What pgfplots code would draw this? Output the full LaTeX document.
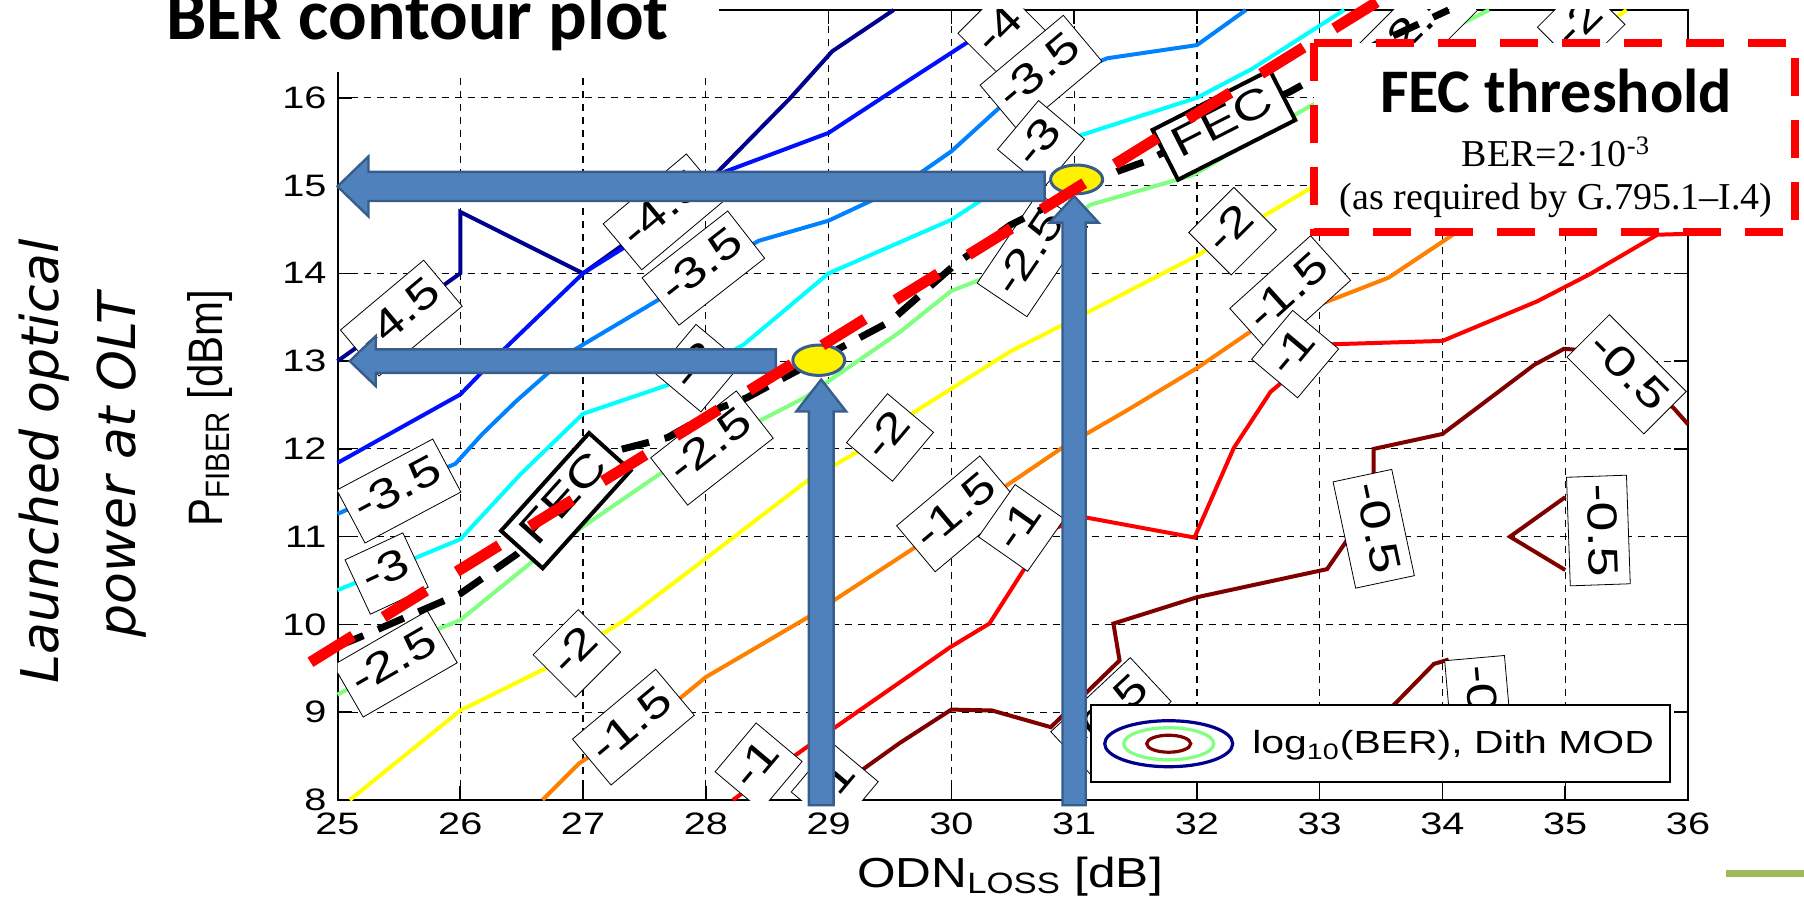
\documentclass[border=0pt]{standalone}
\usepackage{fontspec}
\usepackage{graphicx}
\usepackage{pgfplots}
\pgfplotsset{compat=1.18}
\newfontfamily\arialS[FakeStretch=1.28]{Liberation Sans}
\newfontfamily\arialM[FakeStretch=1.18]{Liberation Sans}
\newfontfamily\arialN{Liberation Sans}
\newfontfamily\calib{Carlito}
\newfontfamily\timesf{Liberation Serif}
\newfontfamily\dejav{DejaVu Sans}
\definecolor{cNavy}{RGB}{0,0,140}
\definecolor{cBlue}{RGB}{0,16,255}
\definecolor{cDodger}{RGB}{0,130,255}
\definecolor{cCyan}{RGB}{0,255,255}
\definecolor{cLGreen}{RGB}{128,255,128}
\definecolor{cYellow}{RGB}{255,255,0}
\definecolor{cOrange}{RGB}{255,128,0}
\definecolor{cRed}{RGB}{255,0,0}
\definecolor{cDRed}{RGB}{128,0,0}
\definecolor{arrF}{RGB}{79,129,189}
\definecolor{arrD}{RGB}{56,93,138}
\definecolor{olive}{RGB}{155,187,89}
\tikzset{
  clab/.style={draw=black, line width=0.4pt, fill=white, inner xsep=4pt, inner ysep=4pt,
    text height=16pt, text depth=6pt, font=\arialS\fontsize{21}{24}\selectfont},
  feclab/.style={draw=black, line width=2pt, fill=white, inner xsep=6pt, inner ysep=4pt,
    text height=15pt, text depth=5pt, font=\arialS\fontsize{21}{24}\selectfont},
  arrowsty/.style={fill=arrF, draw=arrD, line width=1.2pt}
}
\newcommand\clab[4]{\node[clab, rotate=#3] at (axis cs:#1,#2) {#4};}
% horizontal left arrow: tipx, y, endx, headlen, headhalf, shafthalf
\newcommand\harrow[6]{\filldraw[arrowsty] (axis cs:#1,#2) -- ([shift={(#4,#5)}]axis cs:#1,#2) -- ([shift={(#4,#6)}]axis cs:#1,#2) -- ([yshift=#6]axis cs:#3,#2) -- ([yshift=-#6]axis cs:#3,#2) -- ([shift={(#4,-#6)}]axis cs:#1,#2) -- ([shift={(#4,-#5)}]axis cs:#1,#2) -- cycle;}
% vertical up arrow: x, tipy, bottomy, headlen, headhalf, shafthalf
\newcommand\varrow[6]{\filldraw[arrowsty] (axis cs:#1,#2) -- ([shift={(#5,-#4)}]axis cs:#1,#2) -- ([shift={(#6,-#4)}]axis cs:#1,#2) -- ([xshift=#6]axis cs:#1,#3) -- ([xshift=-#6]axis cs:#1,#3) -- ([shift={(-#6,-#4)}]axis cs:#1,#2) -- ([shift={(-#5,-#4)}]axis cs:#1,#2) -- cycle;}
\begin{document}
\begin{tikzpicture}
\useasboundingbox (0,0) rectangle (902pt,455.5pt);
\begin{axis}[
  at={(168.75pt,55.5pt)}, anchor=south west,
  scale only axis, width=675.25pt, height=395pt,
  xmin=25, xmax=36, ymin=8, ymax=17,
  xtick={25,26,...,36}, ytick={8,9,...,16},
  grid=major,
  major grid style={black, line width=0.6pt, dash pattern=on 3.5pt off 3pt},
  axis line style={black, line width=1pt},
  tick style={black, line width=0.8pt}, major tick length=7pt,
  tick label style={font=\arialS\fontsize{15.5}{17}\selectfont},
  xticklabel style={yshift=-3pt},
  yticklabel style={xshift=-2pt},
  /pgf/number format/assume math mode=true,
  clip=false,
  legend cell align=left,
  legend style={at={(axis cs:31.13,8.19)}, anchor=south west, draw=black, line width=1pt,
    fill=white, inner xsep=6pt, inner ysep=7pt, font=\arialS\fontsize{16}{19}\selectfont,
    /tikz/every odd column/.append style={column sep=7pt}},
  every axis plot/.append style={forget plot},
]
% ---- contours ----
\addplot[no markers, cNavy, line width=2pt] coordinates {(25,13.0) (26,14.0) (26,14.7) (27,14.0) (27.3,14.3) (28.1,15.16) (28.69,16.0) (29.03,16.53) (29.53,17)};
\addplot[no markers, cBlue, line width=2pt] coordinates {(25,11.84) (26,12.62) (26.36,13.14) (27,14.0) (27.32,14.28) (28.16,15.16) (29,15.6) (29.6,16.15) (30.14,16.64) (30.6,17)};
\addplot[no markers, cDodger, line width=2pt] coordinates {(25,11.26) (25.96,11.83) (26.18,12.17) (26.46,12.55) (26.93,13.13) (27.64,13.72) (28.43,14.37) (29,14.6) (29.58,14.98) (30.0,15.39) (30.48,16.0) (31.27,16.45) (32,16.6) (32.4,17)};
\addplot[no markers, cCyan, line width=2pt] coordinates {(25,10.39) (26,10.97) (26.49,11.71) (27,12.4) (27.78,12.77) (28.31,13.19) (29,14.0) (30,14.61) (30.48,15.05) (30.98,15.54) (32,16.0) (32.45,16.33) (33.2,17)};
\addplot[no markers, cLGreen, line width=2pt] coordinates {(25,9.2) (25.47,9.55) (25.79,9.93) (26,10.05) (26.6,10.73) (27.62,11.71) (28.2,12.15) (28.8,12.58) (29.58,13.33) (30,13.8) (30.48,14.06) (31.13,14.78) (31.97,15.12) (32.84,15.84) (33.81,16.6) (34.38,17)};
\addplot[no markers, cYellow, line width=2pt] coordinates {(25.1,8.0) (26,9.02) (26.71,9.51) (27.34,10.05) (27.98,10.73) (28.83,11.64) (29.29,12.01) (29.71,12.43) (30.48,13.11) (31.13,13.57) (32,14.2) (32.95,14.99) (34,15.8) (35.36,16.86) (35.5,17)};
\addplot[no markers, cOrange, line width=2pt] coordinates {(26.67,8.0) (26.97,8.42) (27.8,9.17) (28.0,9.4) (28.83,10.08) (29.75,10.92) (30.9,12.01) (31.42,12.43) (32.0,12.92) (32.44,13.34) (33.56,13.95) (34.0,14.36) (35,15.3) (36,16.2)};
\addplot[no markers, cRed, line width=2pt] coordinates {(28.22,8.0) (28.83,8.61) (29.99,9.74) (30.31,10.01) (30.62,10.69) (30.85,11.1) (31.09,11.22) (31.98,10.99) (32.3,12.01) (32.6,12.65) (33.06,13.19) (34.0,13.23) (34.77,13.68) (35.2,13.99) (35.75,14.44) (36,14.45)};
\addplot[no markers, cDRed, line width=2pt] coordinates {(28.93,8.0) (29.58,8.65) (30.0,9.03) (30.33,9.02) (30.81,8.83) (31.37,9.59) (31.32,10.01) (32.0,10.31) (33.06,10.63) (33.44,11.4) (33.44,12.0) (34.0,12.17) (34.75,12.96) (34.99,13.14) (35.18,13.12) (35.88,12.47) (36,12.28)};
\addplot[no markers, cDRed, line width=2pt] coordinates {(33.1,8.4) (33.56,9.02) (33.93,9.55) (34.05,9.6)};
\addplot[no markers, cDRed, line width=2pt] coordinates {(35.0,11.45) (34.55,11.0) (35.0,10.62)};
% ---- contour labels ----
\begin{scope}
\clip (axis cs:25,8) rectangle (axis cs:36,17);
\clab{25.52}{13.49}{40}{-4.5}
\clab{27.66}{14.70}{40}{-4.5}
\clab{27.98}{14.06}{38}{-3.5}
\clab{30.41}{16.75}{45}{-4}
\clab{30.73}{16.28}{40}{-3.5}
\clab{30.73}{15.47}{50}{-3}
\clab{30.66}{14.21}{56}{-2.5}
\clab{32.29}{14.48}{45}{-2}
\clab{35.13}{16.82}{45}{-2}
\clab{33.8}{16.8}{45}{-2.5}
\clab{32.76}{13.76}{42}{-1.5}
\clab{32.8}{13.08}{50}{-1}
\clab{35.5}{12.85}{-45}{-0.5}
\clab{33.44}{11.09}{-78}{-0.5}
\clab{35.27}{11.07}{-88}{-0.5}
\clab{34.3}{9.0}{-85}{-0.5}
\clab{31.3}{8.95}{43}{-0.5}
\clab{30.05}{11.26}{40}{-1.5}
\clab{30.57}{11.1}{55}{-1}
\clab{29.5}{12.13}{50}{-2}
\clab{25.5}{11.52}{28}{-3.5}
\clab{25.4}{10.58}{25}{-3}
\clab{25.47}{9.55}{30}{-2.5}
\clab{28.05}{12.01}{38}{-2.5}
\clab{26.95}{9.67}{45}{-2}
\clab{27.41}{8.83}{40}{-1.5}
\clab{28.43}{8.38}{50}{-1}
\clab{27.94}{12.92}{50}{-3}
\clab{29.05}{8.15}{50}{-1}
\end{scope}
% ---- FEC contour ----
\addplot[no markers, black, line width=3.5pt, dash pattern=on 14pt off 8pt] coordinates {(25,9.75) (25.19,9.86) (26.0,10.35) (26.46,10.8) (27.27,11.98) (27.69,12.13) (28.12,12.47) (28.33,12.58) (28.69,12.85) (29.5,13.45) (30.03,14.1) (30.48,14.55) (31.35,15.16) (31.57,15.27) (32.76,16.07) (33.5,16.64) (34.05,17)};
\node[feclab, rotate=48] at (axis cs:26.86,11.41) {FEC};
\node[feclab, rotate=27] at (axis cs:32.22,15.69) {FEC};
% ---- arrows ----
\harrow{25}{14.99}{30.76}{15.5pt}{15pt}{7.3pt}
\harrow{25.1}{13.0}{28.57}{13pt}{12.5pt}{5.9pt}
\varrow{28.94}{12.79}{7.94}{16pt}{12.5pt}{6.2pt}
\varrow{31.0}{14.88}{7.94}{13.3pt}{12.25pt}{5.8pt}
% ---- dots ----
\filldraw[fill=yellow, draw=arrD, line width=1.5pt] (axis cs:28.92,13.01) ellipse [x radius=13pt, y radius=7.6pt];
\filldraw[fill=yellow, draw=arrD, line width=1.5pt] (axis cs:31.02,15.07) ellipse [x radius=13pt, y radius=7.2pt];
% ---- red threshold line ----
\addplot[no markers, red, line width=5.5pt, dash pattern=on 25pt off 18pt] coordinates {(24.78,9.57) (33.5,17.12)};
% ---- legend ----
\addlegendimage{legend image code/.code={
  \draw[cNavy, line width=1.6pt] (32pt,0pt) ellipse [x radius=32pt, y radius=11.5pt];
  \draw[cLGreen, line width=1.6pt] (32pt,0pt) ellipse [x radius=22.5pt, y radius=8pt];
  \draw[cDRed, line width=1.6pt] (32pt,0pt) ellipse [x radius=11pt, y radius=4.25pt];
}}
\addlegendentry{log\textsubscript{10}(BER), Dith MOD}
\end{axis}
\begin{scope}[x=0.5pt, y=-0.5pt, shift={(0pt,455.5pt)}]
\fill[white] (0,0) rectangle (719,72);
\node[anchor=base west, inner sep=0, font=\calib\bfseries\fontsize{36}{40}\selectfont] at (166,40) {BER contour plot};
\draw[fill=white, draw=red, line width=4pt, dash pattern=on 19pt off 12pt] (1314,43) rectangle (1795,232);
\node[anchor=base, inner sep=0, font=\calib\bfseries\fontsize{31}{34}\selectfont] at (1556,113) {FEC threshold};
\node[anchor=base, inner sep=0, font=\timesf\fontsize{19}{22}\selectfont] at (1556,167) {BER=2·10\textsuperscript{-3}};
\node[anchor=base, inner sep=0, font=\timesf\fontsize{19}{22}\selectfont] at (1556,210) {(as required by G.795.1–I.4)};
\node[anchor=base, inner sep=0, rotate=90, font=\arialN\fontsize{21}{24}\selectfont] at (222,408) {\scalebox{1}[1.15]{P\textsubscript{FIBER} [dBm]}};
\node[anchor=base, inner sep=0, font=\arialM\fontsize{21}{24}\selectfont] at (1010,887) {ODN\textsubscript{LOSS} [dB]};
\node[anchor=base, inner sep=0, rotate=90, font=\dejav\itshape\fontsize{26}{30}\selectfont] at (58,461) {Launched optical};
\node[anchor=base, inner sep=0, rotate=90, font=\dejav\itshape\fontsize{26}{30}\selectfont] at (135,465) {power at OLT};
\draw[olive, line width=3.5pt] (1726,873) -- (1804,873);
\end{scope}
\end{tikzpicture}
\end{document}
